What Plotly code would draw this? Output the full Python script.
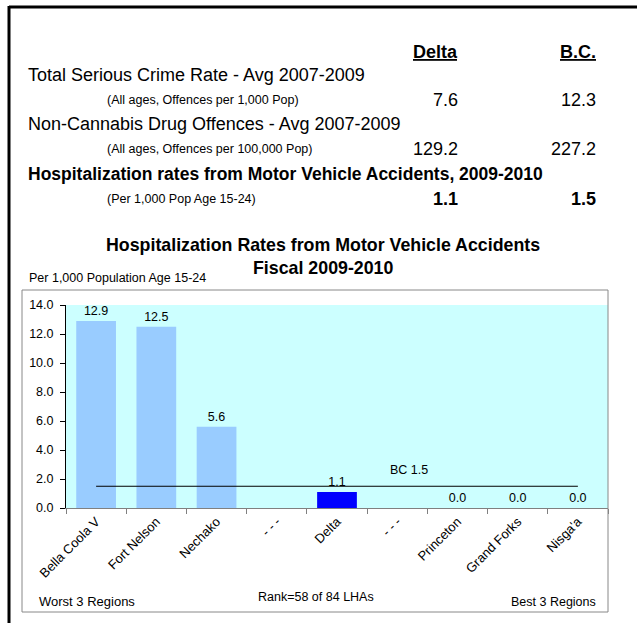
import plotly.graph_objects as go

# ---------------- data ----------------
categories = ["Bella Coola V", "Fort Nelson", "Nechako", "- - -", "Delta", "- - -",
              "Princeton", "Grand Forks", "Nisga'a"]
rates = [12.9, 12.5, 5.6, None, 1.1, None, 0.0, 0.0, 0.0]
bar_colors = ["#99CCFF", "#99CCFF", "#99CCFF", "#99CCFF", "#0000FF", "#99CCFF",
              "#99CCFF", "#99CCFF", "#99CCFF"]
bc_rate = 1.5
y_ticks = [0, 2, 4, 6, 8, 10, 12, 14]

table_titles = ["Total Serious Crime Rate - Avg 2007-2009",
                "Non-Cannabis Drug Offences - Avg 2007-2009",
                "Hospitalization rates from Motor Vehicle Accidents, 2009-2010"]
table_subtitles = ["(All ages, Offences per 1,000 Pop)",
                   "(All ages, Offences per 100,000 Pop)",
                   "(Per 1,000 Pop Age 15-24)"]
delta_values = ["7.6", "129.2", "1.1"]
bc_values = ["12.3", "227.2", "1.5"]

# ---------------- layout geometry (pixels) ----------------
W, H = 637, 623
PL, PR, PT, PB = 66, 608, 305, 508   # plot area edges
FONT = "Liberation Sans, Arial, sans-serif"


def px(x):
    return (x - PL) / (PR - PL)


def py(y):
    return (PB - y) / (PB - PT)


def text_ann(x, y, text, size, anchor="left", bold=False):
    return dict(x=px(x), y=py(y), xref="paper", yref="paper",
                text=("<b>%s</b>" % text) if bold else text,
                xanchor=anchor, yanchor="middle", showarrow=False,
                font=dict(size=size, family=FONT, color="black"))


xs = list(range(len(categories)))
fig = go.Figure()
fig.add_trace(go.Bar(
    x=xs, y=rates, marker=dict(color=bar_colors, line=dict(width=0)),
    text=[("%.1f" % v) if v is not None else "" for v in rates],
    textposition="outside", textfont=dict(size=12.5, color="black", family=FONT),
    cliponaxis=False, width=0.66, hoverinfo="skip", showlegend=False))
fig.add_trace(go.Scatter(
    x=[xs[0], xs[-1]], y=[bc_rate, bc_rate], mode="lines",
    line=dict(color="black", width=1), hoverinfo="skip", showlegend=False))
# invisible trace to drive the secondary axis (tick marks between categories)
fig.add_trace(go.Scatter(x=[0], y=[0], xaxis="x2", mode="markers",
                         marker=dict(opacity=0), hoverinfo="skip", showlegend=False))

ann = []
ann.append(dict(x=5.2, y=bc_rate + 1.1, xref="x", yref="y", text="BC %.1f" % bc_rate,
                showarrow=False, font=dict(size=12.5, family=FONT, color="black")))

# table
ann.append(text_ann(460, 52, "<u>Delta</u>", 18, "right", True))
ann.append(text_ann(598, 52, "<u>B.C.</u>", 18, "right", True))
row_y = [75, 124, 174]
for i in range(3):
    bold = i == 2
    ann.append(text_ann(26, row_y[i], table_titles[i], 17.5 if bold else 18, "left", bold))
    ann.append(text_ann(105, row_y[i] + 25, table_subtitles[i], 12.5, "left"))
    ann.append(text_ann(460, row_y[i] + 25, delta_values[i], 18, "right", bold))
    ann.append(text_ann(598, row_y[i] + 25, bc_values[i], 18, "right", bold))

# chart title
ann.append(text_ann(323, 245, "Hospitalization Rates from Motor Vehicle Accidents", 17.8, "center", True))
ann.append(text_ann(323, 268, "Fiscal 2009-2010", 17.8, "center", True))
ann.append(text_ann(27, 278, "Per 1,000 Population Age 15-24", 12.5, "left"))
# bottom notes
ann.append(text_ann(37, 601, "Worst 3 Regions", 13, "left"))
ann.append(text_ann(316, 597, "Rank=58 of 84 LHAs", 12.5, "center"))
ann.append(text_ann(598, 602, "Best 3 Regions", 12.5, "right"))

shapes = [
    dict(type="line", xref="paper", yref="paper", x0=px(9), x1=px(640), y0=py(7), y1=py(7),
         line=dict(color="black", width=3)),
    dict(type="line", xref="paper", yref="paper", x0=px(9), x1=px(9), y0=py(6), y1=py(626),
         line=dict(color="black", width=3)),
    dict(type="rect", xref="paper", yref="paper", x0=px(22), x1=px(608), y0=py(290), y1=py(612),
         line=dict(color="#888888", width=1), layer="above"),
]

fig.update_layout(
    width=W, height=H,
    margin=dict(l=PL, r=W - PR, t=PT, b=H - PB, pad=0),
    paper_bgcolor="white", plot_bgcolor="#CCFFFF",
    font=dict(family=FONT, color="black"),
    xaxis=dict(range=[-0.5, len(categories) - 0.5], tickmode="array", tickvals=xs,
               ticktext=categories, tickangle=-45, ticks="", showgrid=False,
               showline=True, linecolor="#808080", linewidth=1, zeroline=False,
               tickfont=dict(size=13, family=FONT, color="black"), fixedrange=True),
    xaxis2=dict(range=[-0.5, len(categories) - 0.5], overlaying="x", tickmode="array",
                tickvals=[i - 0.5 for i in range(len(categories) + 1)], ticks="outside",
                ticklen=5, tickcolor="#808080", showticklabels=False, showgrid=False,
                showline=False, zeroline=False, side="bottom", anchor="y"),
    yaxis=dict(range=[0, 14], tickmode="array", tickvals=y_ticks,
               ticktext=["%.1f" % v for v in y_ticks], ticks="outside", ticklen=5,
               tickcolor="black", showline=True, linecolor="black", linewidth=1,
               showgrid=False, zeroline=False, ticklabelstandoff=4,
               tickfont=dict(size=12.5, family=FONT, color="black"), fixedrange=True),
    annotations=ann, shapes=shapes,
)

fig.write_html("out.html", config={"displayModeBar": False, "staticPlot": True},
               post_script="document.body.style.margin='0';document.body.style.overflow='hidden';")
